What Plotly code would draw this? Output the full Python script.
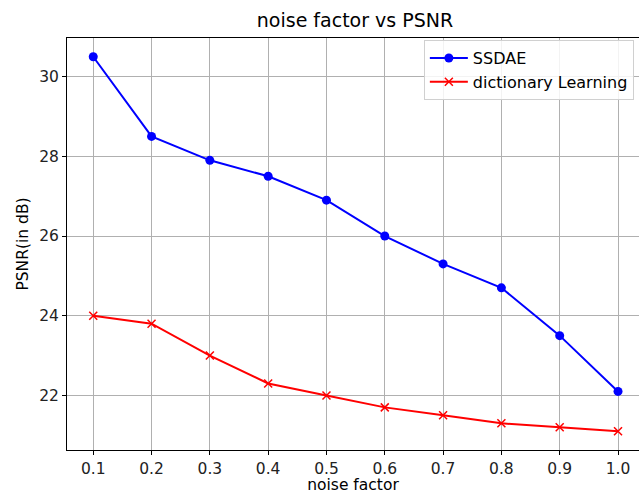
import plotly.graph_objects as go

noise = [0.1, 0.2, 0.3, 0.4, 0.5, 0.6, 0.7, 0.8, 0.9, 1.0]
x_tick_labels = ["0.1", "0.2", "0.3", "0.4", "0.5", "0.6", "0.7", "0.8", "0.9", "1.0"]
ssdae = [30.5, 28.5, 27.9, 27.5, 26.9, 26.0, 25.3, 24.7, 23.5, 22.1]
dict_learning = [24.0, 23.8, 23.0, 22.3, 22.0, 21.7, 21.5, 21.3, 21.2, 21.1]
y_ticks = [22, 24, 26, 28, 30]

fig = go.Figure()
fig.add_trace(go.Scatter(x=noise, y=ssdae, mode="lines+markers", name="SSDAE",
                         line=dict(color="#0000ff", width=2),
                         marker=dict(symbol="circle", size=9, color="#0000ff")))
fig.add_trace(go.Scatter(x=noise, y=dict_learning, mode="lines+markers", name="dictionary Learning",
                         line=dict(color="#ff0000", width=2),
                         marker=dict(symbol="x-thin", size=8, color="#ff0000",
                                     line=dict(color="#ff0000", width=1.5))))

W, H = 639, 494
font = "DejaVu Sans, sans-serif"
fig.update_layout(
    width=W, height=H,
    margin=dict(l=67, r=0, t=38, b=44),
    paper_bgcolor="white", plot_bgcolor="white",
    font=dict(family=font, size=15.5, color="#222"),
    title=dict(text="noise factor vs PSNR", x=355 / W, xanchor="center",
               y=1 - 20 / H, yanchor="middle", font=dict(size=19, color="#000")),
    showlegend=True,
    legend=dict(x=0.991, xanchor="right", y=0.995, yanchor="top",
                bgcolor="rgba(255,255,255,0.85)", bordercolor="#d0d0d0", borderwidth=1,
                font=dict(size=16, color="#000"), itemwidth=38),
)
fig.update_xaxes(range=[0.055, 1.036], tickvals=noise, ticktext=x_tick_labels,
                 showgrid=True, gridcolor="#b0b0b0", gridwidth=1,
                 showline=True, linecolor="#000", linewidth=1, mirror=True,
                 ticks="outside", ticklen=4, tickcolor="#000", zeroline=False,
                 tickfont=dict(size=15.5, color="#222"),
                 title=dict(text="noise factor", font=dict(size=15.5, color="#000"), standoff=4))
fig.update_yaxes(range=[20.63, 30.97], tickvals=y_ticks,
                 showgrid=True, gridcolor="#b0b0b0", gridwidth=1,
                 showline=True, linecolor="#000", linewidth=1,
                 ticks="outside", ticklen=4, tickcolor="#000", zeroline=False,
                 tickfont=dict(size=15.5, color="#222"),
                 title=dict(text="PSNR(in dB)", font=dict(size=15.5, color="#000"), standoff=6))

fig.write_html("out.html", config={"displayModeBar": False},
               post_script="document.body.style.margin='0';document.body.style.overflow='hidden';")
